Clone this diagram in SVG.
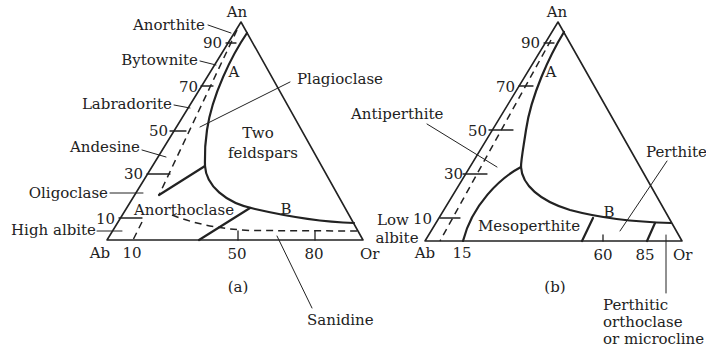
<svg xmlns="http://www.w3.org/2000/svg" width="706" height="354" viewBox="0 0 706 354">
<style>
  .ln{fill:none;stroke:#222;stroke-linecap:round;stroke-linejoin:round}
  .edge{stroke-width:1.6}
  .curve{stroke-width:2.2}
  .dash{stroke-width:1.5;stroke-dasharray:7 5;stroke-linecap:butt}
  .lead{stroke-width:1}
  .tick{stroke-width:1.3}
  text{font-family:"DejaVu Serif","Liberation Serif",serif;font-size:15px;fill:#222}
  .m{text-anchor:middle}
  .e{text-anchor:end}
</style>
<rect width="706" height="354" fill="#fff"/>

<!-- Panel (a) -->
<g id="panel-a">
  <g id="a-frame">
    <path class="ln edge" d="M107,240 L241,22 L363,240 Z"/>
  </g>
  <g id="a-boundaries">
    <path class="ln curve" d="M247,33 C232,55 212,95 207,130 C204,150 205,160 205,166"/>
    <path class="ln curve" d="M205,166 C206,185 225,203 255,209 C290,217 320,222 354,223"/>
    <path class="ln curve" d="M205,166 L159,195"/>
    <path class="ln curve" d="M250,208 L199,240"/>
    <path class="ln dash" d="M237,30 L159,195"/>
    <path class="ln dash" d="M142,222 L133,240"/>
    <path class="ln dash" d="M172,215 C195,224 220,229 250,230.5 L357,231"/>
  </g>
  <g id="a-ticks">
    <path class="ln tick" d="M226,43 L236,43 M201,86 L213,86 M170,131 L186,131 M147,174 L170,174 M119,218 L142,218 M238,231 L238,240 M315,231 L315,240"/>
  </g>
  <g id="a-leaders">
    <path class="ln lead" d="M208,25 L231,33 M200,61 L216,65 M174,105 L190,108 M142,150 L166,157 M110,193 L143,193 M97,231 L122,231 M290,82 L200,127 M277,236 L312,308"/>
  </g>
  <g id="a-labels">
    <text class="m" x="237" y="17">An</text>
    <text class="e" x="205" y="30">Anorthite</text>
    <text class="e" x="222" y="48">90</text>
    <text class="e" x="198" y="65">Bytownite</text>
    <text class="m" x="234" y="77">A</text>
    <text class="e" x="198" y="92">70</text>
    <text x="297" y="84">Plagioclase</text>
    <text class="e" x="172" y="109">Labradorite</text>
    <text class="e" x="168" y="136">50</text>
    <text class="m" x="258" y="138">Two</text>
    <text class="e" x="140" y="152">Andesine</text>
    <text class="m" x="263" y="158">feldspars</text>
    <text class="e" x="143" y="179">30</text>
    <text class="e" x="108" y="198">Oligoclase</text>
    <text x="134" y="215">Anorthoclase</text>
    <text class="m" x="286" y="214">B</text>
    <text class="e" x="115" y="224">10</text>
    <text class="e" x="96" y="235">High albite</text>
    <text class="m" x="100" y="258">Ab</text>
    <text class="m" x="132" y="258">10</text>
    <text class="m" x="237" y="259">50</text>
    <text class="m" x="314" y="259">80</text>
    <text x="360" y="259">Or</text>
    <text class="m" x="238" y="292">(a)</text>
    <text x="307" y="325">Sanidine</text>
  </g>
</g>

<!-- Panel (b) -->
<g id="panel-b">
  <g id="b-frame">
    <path class="ln edge" d="M425,241 L558,22 L682,241 Z"/>
  </g>
  <g id="b-boundaries">
    <path class="ln curve" d="M564,32 C550,55 531,95 526,130 C523,150 521,160 521,167"/>
    <path class="ln curve" d="M521,167 C522,185 540,201 570,210 C600,218 635,222 671,223"/>
    <path class="ln curve" d="M521,167 C500,178 472,205 463,241"/>
    <path class="ln curve" d="M593,218 L582,241"/>
    <path class="ln curve" d="M655,223 L647,241"/>
    <path class="ln dash" d="M551,40 L440,241"/>
  </g>
  <g id="b-ticks">
    <path class="ln tick" d="M544,43 L554,43 M519,86 L533,86 M489,130 L513,130 M463,174 L487,174 M440,218 L460,218 M603,235 L603,241"/>
  </g>
  <g id="b-leaders">
    <path class="ln lead" d="M427,124 L497,167 M667,161 L620,231 M666,235 L666,293"/>
  </g>
  <g id="b-labels">
    <text class="m" x="557" y="17">An</text>
    <text class="e" x="540" y="48">90</text>
    <text class="m" x="551" y="77">A</text>
    <text class="e" x="515" y="92">70</text>
    <text x="351" y="119">Antiperthite</text>
    <text class="e" x="487" y="136">50</text>
    <text x="646" y="157">Perthite</text>
    <text class="e" x="463" y="179">30</text>
    <text class="m" x="609" y="217">B</text>
    <text class="m" x="393" y="225">Low</text>
    <text class="e" x="432" y="224">10</text>
    <text x="478" y="231">Mesoperthite</text>
    <text class="m" x="397" y="243">albite</text>
    <text class="m" x="425" y="258">Ab</text>
    <text class="m" x="462" y="258">15</text>
    <text class="m" x="603" y="260">60</text>
    <text class="m" x="645" y="260">85</text>
    <text x="673" y="260">Or</text>
    <text class="m" x="555" y="292">(b)</text>
    <text x="603" y="310">Perthitic</text>
    <text x="603" y="327">orthoclase</text>
    <text x="603" y="344">or microcline</text>
  </g>
</g>
</svg>
